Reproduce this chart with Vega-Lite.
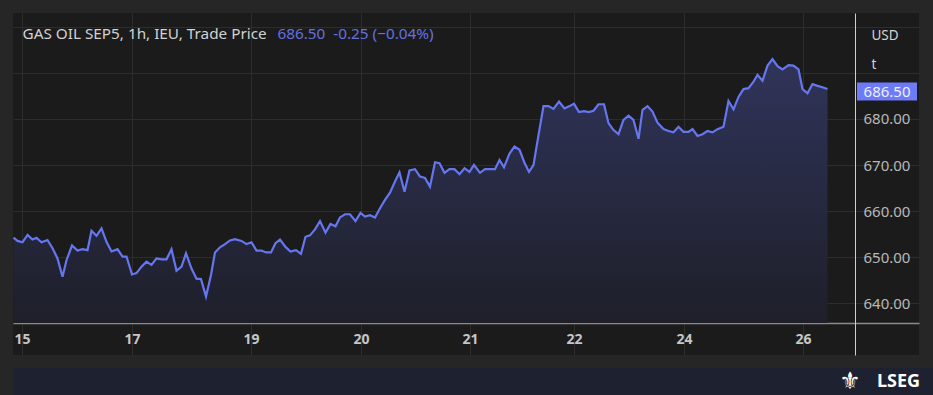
{
  "$schema": "https://vega.github.io/schema/vega-lite/v6.json",
  "background": "#262626",
  "padding": 0,
  "spacing": 13,
  "config": {"font": "Noto Sans", "view": {"stroke": null}},
  "datasets": {
    "prices": [
      {"t":0.1,"price":654.2},{"t":0.9,"price":653.5},{"t":1.9,"price":653.2},{"t":2.9,"price":654.8},{"t":3.9,"price":653.8},{"t":4.7,"price":654.2},{"t":5.7,"price":653.2},{"t":6.9,"price":653.7},{"t":7.9,"price":651.9},{"t":8.9,"price":649.7},
      {"t":9.9,"price":645.7},{"t":10.7,"price":649.3},{"t":11.8,"price":652.5},{"t":12.9,"price":651.4},{"t":13.9,"price":651.7},{"t":14.9,"price":651.5},{"t":15.7,"price":655.7},{"t":16.7,"price":654.6},{"t":17.7,"price":656.2},{"t":18.7,"price":653.3},
      {"t":19.7,"price":651.2},{"t":20.9,"price":651.7},{"t":21.9,"price":650.1},{"t":22.7,"price":650.1},{"t":23.8,"price":646.2},{"t":24.7,"price":646.5},{"t":25.7,"price":647.9},{"t":26.7,"price":649.0},{"t":27.7,"price":648.3},{"t":28.7,"price":649.7},
      {"t":29.7,"price":649.5},{"t":30.7,"price":649.5},{"t":31.7,"price":651.7},{"t":32.7,"price":647.0},{"t":33.7,"price":647.9},{"t":34.6,"price":650.8},{"t":35.7,"price":647.5},{"t":36.7,"price":645.3},{"t":37.6,"price":645.2},{"t":38.6,"price":641.4},
      {"t":39.6,"price":646.1},{"t":40.4,"price":651.0},{"t":41.4,"price":652.1},{"t":42.4,"price":652.8},{"t":43.4,"price":653.6},{"t":44.4,"price":653.9},{"t":45.7,"price":653.5},{"t":46.7,"price":652.8},{"t":47.7,"price":653.2},{"t":48.7,"price":651.4},
      {"t":49.7,"price":651.4},{"t":50.6,"price":651.0},{"t":51.6,"price":651.0},{"t":52.5,"price":653.0},{"t":53.4,"price":653.8},{"t":54.5,"price":652.2},{"t":55.5,"price":651.2},{"t":56.6,"price":651.5},{"t":57.6,"price":650.7},{"t":58.5,"price":654.4},
      {"t":59.4,"price":654.7},{"t":60.4,"price":656.0},{"t":61.4,"price":657.8},{"t":62.5,"price":655.3},{"t":63.5,"price":657.2},{"t":64.5,"price":656.7},{"t":65.4,"price":658.6},{"t":66.4,"price":659.3},{"t":67.4,"price":659.3},{"t":68.5,"price":657.8},
      {"t":69.5,"price":659.6},{"t":70.4,"price":658.8},{"t":71.4,"price":659.1},{"t":72.4,"price":658.6},{"t":73.4,"price":660.6},{"t":74.4,"price":662.4},{"t":75.4,"price":664.0},{"t":76.4,"price":666.4},{"t":77.3,"price":668.4},{"t":78.3,"price":664.2},
      {"t":79.3,"price":668.8},{"t":80.4,"price":669.1},{"t":81.4,"price":667.5},{"t":82.4,"price":667.2},{"t":83.4,"price":665.3},{"t":84.4,"price":670.6},{"t":85.3,"price":670.4},{"t":86.3,"price":668.3},{"t":87.3,"price":669.1},{"t":88.3,"price":669.1},
      {"t":89.3,"price":668.0},{"t":90.3,"price":669.3},{"t":91.3,"price":668.5},{"t":92.2,"price":670.0},{"t":93.4,"price":668.3},{"t":94.4,"price":669.1},{"t":95.4,"price":669.1},{"t":96.4,"price":669.1},{"t":97.3,"price":671.1},{"t":98.2,"price":669.5},
      {"t":99.3,"price":672.5},{"t":100.3,"price":674.0},{"t":101.3,"price":673.3},{"t":102.3,"price":670.5},{"t":103.2,"price":668.5},{"t":104.1,"price":670.0},{"t":105.1,"price":676.5},{"t":106.1,"price":682.8},{"t":107.1,"price":682.8},{"t":108.1,"price":682.2},
      {"t":109.2,"price":683.8},{"t":110.3,"price":682.3},{"t":111.3,"price":682.8},{"t":112.2,"price":683.3},{"t":113.2,"price":681.5},{"t":114.2,"price":681.7},{"t":115.2,"price":681.5},{"t":116.1,"price":681.8},{"t":117.1,"price":683.2},{"t":118.2,"price":683.2},
      {"t":119.1,"price":679.1},{"t":120.1,"price":677.6},{"t":121.1,"price":676.7},{"t":122.1,"price":679.8},{"t":123.1,"price":680.7},{"t":124.1,"price":679.8},{"t":125.1,"price":675.7},{"t":125.9,"price":682.0},{"t":126.9,"price":682.8},{"t":127.9,"price":681.6},
      {"t":128.9,"price":679.2},{"t":130.1,"price":677.8},{"t":131.1,"price":677.4},{"t":132.1,"price":677.1},{"t":133.1,"price":678.3},{"t":134.1,"price":677.2},{"t":135.1,"price":677.2},{"t":135.9,"price":677.8},{"t":136.9,"price":676.3},{"t":137.9,"price":676.7},
      {"t":138.9,"price":677.4},{"t":139.9,"price":677.1},{"t":140.9,"price":677.8},{"t":142.1,"price":678.3},{"t":143.1,"price":683.9},{"t":144.1,"price":682.1},{"t":145.1,"price":684.8},{"t":146.1,"price":686.5},{"t":147.1,"price":686.7},{"t":148.1,"price":688.1},
      {"t":148.9,"price":689.6},{"t":149.9,"price":688.3},{"t":150.9,"price":691.6},{"t":151.9,"price":693.0},{"t":152.9,"price":691.5},{"t":153.9,"price":690.8},{"t":155.1,"price":691.7},{"t":156.1,"price":691.6},{"t":157.1,"price":690.8},{"t":157.9,"price":686.5},
      {"t":158.9,"price":685.6},{"t":159.9,"price":687.6},{"t":160.9,"price":687.2},{"t":161.9,"price":686.9},{"t":162.9,"price":686.5}
    ],
    "last": [{"price": 686.5}],
    "brand": [{"name": "LSEG", "crest": "⚜"}]
  },
  "vconcat": [
    {
      "width": 906,
      "height": 342,
      "view": {"fill": "#1b1b1b", "stroke": null},
      "resolve": {"axis": {"x": "independent", "y": "independent"}},
      "layer": [
        {
          "data": {"name": "prices"},
          "mark": {
            "type": "area",
            "color": {
              "gradient": "linear", "x1": 0, "y1": 0, "x2": 0, "y2": 1,
              "stops": [{"offset": 0, "color": "#30345a"}, {"offset": 1, "color": "#1e1f29"}]
            }
          },
          "encoding": {
            "x": {
              "field": "t", "type": "quantitative",
              "scale": {"domain": [0, 181.2], "nice": false, "zero": false},
              "axis": {
                "orient": "top", "values": [1.8, 23.8, 47.6, 69.6, 91.4, 112.2, 134.2, 158],
                "grid": true, "gridColor": "#2d2d2d", "labels": false, "ticks": false, "domain": false,
                "minExtent": 13, "maxExtent": 13,
                "title": "686.50\u00a0 -0.25 (−0.04%)", "titleX": 264, "titleY": 20,
                "titleAlign": "left", "titleAngle": 0, "titleBaseline": "middle",
                "titleColor": "#6571e0", "titleFontSize": 15.3, "titleFontWeight": "normal"
              }
            },
            "y": {
              "field": "price", "type": "quantitative",
              "scale": {"domain": [628.7, 703.04], "nice": false, "zero": false},
              "axis": {
                "orient": "left", "values": [640, 650, 660, 670, 680, 690, 700],
                "grid": true, "gridColor": "#2d2d2d", "labels": false, "ticks": false, "domain": false,
                "minExtent": 13, "maxExtent": 13,
                "title": "GAS OIL SEP5, 1h, IEU, Trade Price", "titleX": 9, "titleY": 20,
                "titleAlign": "left", "titleAngle": 0, "titleBaseline": "middle",
                "titleColor": "#d2d2d2", "titleFontSize": 15.3, "titleFontWeight": "normal"
              }
            },
            "y2": {"datum": 635.65}
          }
        },
        {
          "data": {"name": "prices"},
          "mark": {"type": "line", "color": "#6676f0", "strokeWidth": 2.2},
          "encoding": {
            "x": {
              "field": "t", "type": "quantitative",
              "scale": {"domain": [0, 181.2], "nice": false, "zero": false},
              "axis": {
                "orient": "bottom", "offset": -32,
                "values": [1.8, 23.8, 47.6, 69.6, 91.4, 112.2, 134.2, 158],
                "labelExpr": "['15','17','19','20','21','22','24','26'][indexof([1.8, 23.8, 47.6, 69.6, 91.4, 112.2, 134.2, 158], datum.value)]",
                "grid": false, "ticks": false, "domainColor": "#8a8a8a", "domainWidth": 1.5,
                "labelColor": "#c6c6c6", "labelFontSize": 14, "labelFontWeight": "bold", "labelPadding": 9,
                "title": null, "minExtent": 0, "maxExtent": 0
              }
            },
            "y": {
              "field": "price", "type": "quantitative",
              "scale": {"domain": [628.7, 703.04], "nice": false, "zero": false},
              "axis": {
                "orient": "right", "offset": -64, "values": [640, 650, 660, 670, 680], "format": ".2f",
                "grid": false, "ticks": false, "domainColor": "#cfcfcf",
                "labelColor": "#b8b8b8", "labelFontSize": 15, "labelPadding": 8,
                "title": ["USD", "t"], "titleX": 16, "titleY": 15, "titleAngle": 0, "titleAlign": "left",
                "titleBaseline": "top", "titleLineHeight": 29, "titleColor": "#d4d4d4",
                "titleFontSize": 13.5, "titleFontWeight": "normal", "minExtent": 0, "maxExtent": 0
              }
            }
          }
        },
        {
          "data": {"name": "last"},
          "mark": {"type": "tick", "orient": "horizontal", "size": 60, "thickness": 18, "color": "#6e7bf7", "opacity": 1, "xOffset": -32, "yOffset": 2.5},
          "encoding": {
            "y": {"field": "price", "type": "quantitative", "axis": null},
            "x": {"value": "width"}
          }
        },
        {
          "data": {"name": "last"},
          "mark": {"type": "text", "color": "#eef0ff", "fontSize": 15, "align": "center", "baseline": "middle", "xOffset": -32, "yOffset": 2.5},
          "encoding": {
            "y": {"field": "price", "type": "quantitative", "axis": null},
            "x": {"value": "width"},
            "text": {"field": "price", "type": "quantitative", "format": ".2f"}
          }
        }
      ]
    },
    {
      "width": 920,
      "height": 27,
      "view": {"fill": "#1d2130", "stroke": null},
      "data": {"name": "brand"},
      "layer": [
        {
          "mark": {"type": "text", "color": "#ffffff", "fontSize": 18, "fontWeight": "bold", "align": "right", "baseline": "middle", "dx": -13},
          "encoding": {"text": {"field": "name"}, "x": {"value": "width"}}
        },
        {
          "mark": {"type": "text", "color": "#ffffff", "fontSize": 24, "align": "center", "baseline": "middle", "dx": -83, "font": "DejaVu Sans"},
          "encoding": {"text": {"field": "crest"}, "x": {"value": "width"}}
        }
      ]
    }
  ]
}
